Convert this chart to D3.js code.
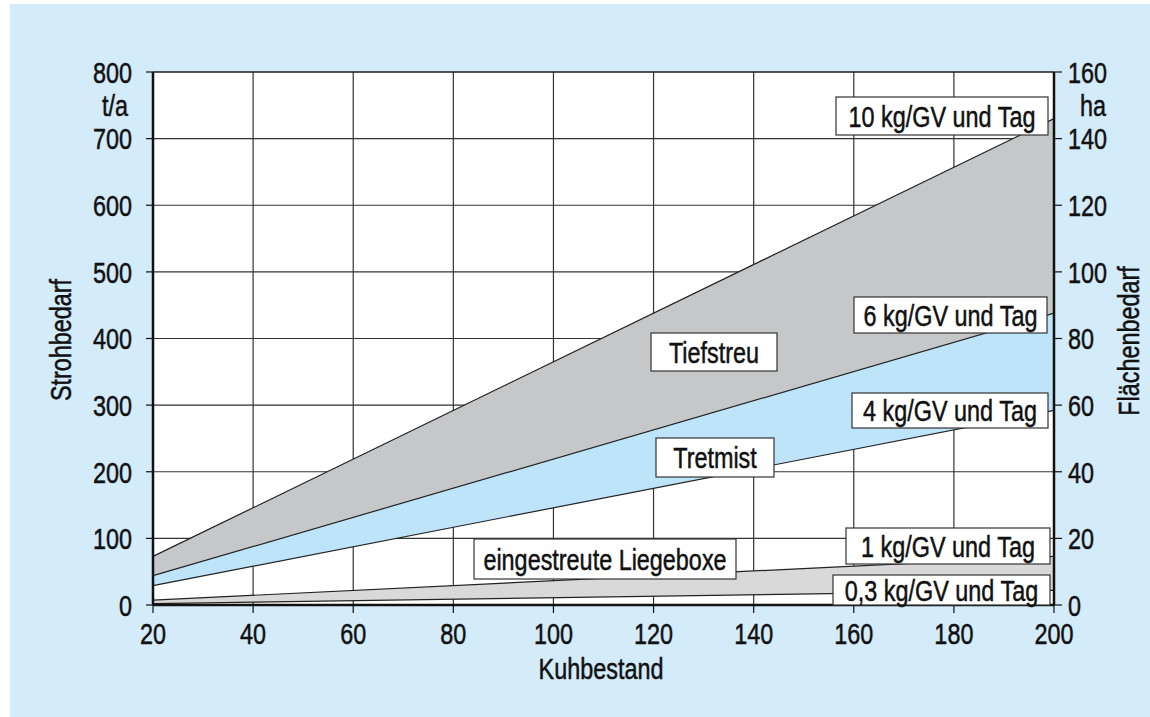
<!DOCTYPE html>
<html><head><meta charset="utf-8">
<script src="https://cdn.jsdelivr.net/npm/d3@7"></script>
<style>
body{margin:0;background:#fff;}
text{font-family:"Liberation Sans",Arial,sans-serif;fill:#111;stroke:#111;stroke-width:0.5;}
</style></head><body>
<svg id="c" width="1150" height="717"></svg>
<script>
// Data (Strohbedarf t/a at Kuhbestand 20 and 200)
const herd = [20, 200];
const straw10 = [73, 730];
const straw6 = [44, 438];
const straw4 = [29, 292];
const straw1 = [7.3, 73];
const straw03 = [2.2, 22];
const xTicks = [20,40,60,80,100,120,140,160,180,200];
const yTicksLeft = [0,100,200,300,400,500,600,700,800];
const yTicksRight = [0,20,40,60,80,100,120,140,160];

const svg = d3.select("#c");
const L=153, R=1054, T=72, B=605;
const x = d3.scaleLinear().domain([20,200]).range([L,R]);
const y = d3.scaleLinear().domain([0,800]).range([B,T]);
const y2 = d3.scaleLinear().domain([0,160]).range([B,T]);

svg.append("rect").attr("x",10).attr("y",4).attr("width",1140).attr("height",713).attr("fill","#d4ebfa");
svg.append("rect").attr("x",L).attr("y",T).attr("width",R-L).attr("height",B-T).attr("fill","#fff");

// grid
const g = svg.append("g").attr("stroke","#333").attr("stroke-width",1.2);
xTicks.forEach(t=>g.append("line").attr("x1",x(t)).attr("x2",x(t)).attr("y1",T).attr("y2",B));
yTicksLeft.forEach(t=>g.append("line").attr("x1",L).attr("x2",R).attr("y1",y(t)).attr("y2",y(t)));

const pts = (a)=>herd.map((h,i)=>({h, v:a[i]}));
function band(upper, lower, color){
  const data = herd.map((h,i)=>({h, u:upper[i], l:lower[i]}));
  svg.append("path").datum(data)
    .attr("d", d3.area().x(d=>x(d.h)).y0(d=>y(d.l)).y1(d=>y(d.u)))
    .attr("fill",color);
}
band(straw10, straw6, "#c6c7c8");
band(straw6, straw4, "#bde4f8");
band(straw1, straw03, "#d9d9d9");

const line = d3.line().x(d=>x(d.h)).y(d=>y(d.v));
[straw10, straw6, straw4, straw1, straw03].forEach(a=>{
  svg.append("path").datum(pts(a)).attr("d",line).attr("fill","none").attr("stroke","#222").attr("stroke-width",1.2);
});

// axes
const ax = svg.append("g").attr("stroke","#111");
ax.append("line").attr("x1",L).attr("x2",L).attr("y1",T).attr("y2",B).attr("stroke-width",2.5);
ax.append("line").attr("x1",R).attr("x2",R).attr("y1",T).attr("y2",B).attr("stroke-width",2.5);
ax.append("line").attr("x1",L).attr("x2",R).attr("y1",B).attr("y2",B).attr("stroke-width",2.5);
ax.append("line").attr("x1",L).attr("x2",R).attr("y1",T).attr("y2",T).attr("stroke-width",1.2);
yTicksLeft.forEach(t=>ax.append("line").attr("x1",L-7).attr("x2",L).attr("y1",y(t)).attr("y2",y(t)).attr("stroke-width",1.2));
yTicksRight.forEach(t=>ax.append("line").attr("x1",R).attr("x2",R+8).attr("y1",y2(t)).attr("y2",y2(t)).attr("stroke-width",1.2));
xTicks.forEach(t=>ax.append("line").attr("x1",x(t)).attr("x2",x(t)).attr("y1",B).attr("y2",B+8).attr("stroke-width",1.2));

const fs = 30, sx = 0.78;
function txt(px, py, s, anchor, rot){
  const t = svg.append("text")
    .attr("transform", `translate(${px},${py})` + (rot?` rotate(${rot})`:``) + ` scale(${sx},1)`)
    .attr("text-anchor", anchor).attr("font-size", fs).text(s);
  return t;
}
yTicksLeft.forEach(t=>txt(132, y(t), t, "end").attr("dy","0.36em"));
yTicksRight.forEach(t=>txt(1068, y2(t), t, "start").attr("dy","0.36em"));
xTicks.forEach(t=>txt(x(t), 644, t, "middle"));
txt(115, 116, "t/a", "middle");
txt(1093, 116, "ha", "middle");
txt(601, 679, "Kuhbestand", "middle");
txt(71, 340, "Strohbedarf", "middle", -90);
txt(1139, 341, "Flächenbedarf", "middle", -90);

// label boxes
const labels = [
  {t:"10 kg/GV und Tag", x0:836, x1:1048, y0:97, y1:135},
  {t:"6 kg/GV und Tag", x0:854, x1:1047, y0:297, y1:333},
  {t:"4 kg/GV und Tag", x0:852, x1:1048, y0:393, y1:428},
  {t:"Tiefstreu", x0:651, x1:777, y0:333, y1:371},
  {t:"Tretmist", x0:656, x1:774, y0:438, y1:477},
  {t:"eingestreute Liegeboxe", x0:474, x1:736, y0:539, y1:579},
  {t:"1 kg/GV und Tag", x0:846, x1:1050, y0:528, y1:564},
  {t:"0,3 kg/GV und Tag", x0:833, x1:1050, y0:575, y1:605}
];
labels.forEach(l=>{
  svg.append("rect").attr("x",l.x0).attr("y",l.y0).attr("width",l.x1-l.x0).attr("height",l.y1-l.y0)
    .attr("fill","#fff").attr("stroke","#333").attr("stroke-width",1.2);
  txt((l.x0+l.x1)/2, (l.y0+l.y1)/2, l.t, "middle").attr("dy","0.36em");
});
</script></body></html>
